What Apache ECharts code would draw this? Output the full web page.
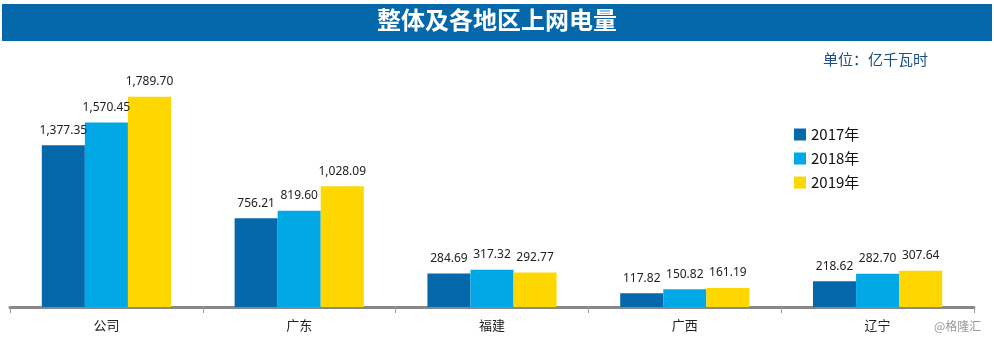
<!DOCTYPE html>
<html><head><meta charset="utf-8">
<script src="https://cdn.jsdelivr.net/npm/echarts@6/dist/echarts.min.js"></script>
<style>html,body{margin:0;padding:0;background:#fff;}#c{width:994px;height:342px;}</style>
</head><body><div id="c"></div>
<script>
var categories = ['公司', '广东', '福建', '广西', '辽宁'];
var seriesNames = ['2017年', '2018年', '2019年'];
var v2017 = [1377.35, 756.21, 284.69, 117.82, 218.62];
var v2018 = [1570.45, 819.60, 317.32, 150.82, 282.70];
var v2019 = [1789.70, 1028.09, 292.77, 161.19, 307.64];
var colors = ['#0468AA', '#00A8E6', '#FFD700'];
var fmt = function (p) {
  return p.value.toLocaleString('en-US', {minimumFractionDigits: 2, maximumFractionDigits: 2});
};
var chart = echarts.init(document.getElementById('c'));
var data = [v2017, v2018, v2019];
chart.setOption({
  animation: false,
  graphic: [
    {type: 'rect', left: 2, top: 4, shape: {width: 990, height: 37}, style: {fill: '#0468AA'}},
    {type: 'text', left: 'center', top: 8, style: {text: '整体及各地区上网电量', fill: '#fff', font: 'bold 24px "Noto Sans CJK SC", sans-serif'}},
    {type: 'text', left: 823, top: 52, style: {text: '单位：亿千瓦时', fill: '#1A4F85', font: '15px "Noto Sans CJK SC", sans-serif'}},
    {type: 'text', left: 934, top: 320, style: {text: '@格隆汇', fill: '#999', font: '12px "Noto Sans CJK SC", sans-serif'}}
  ],
  legend: {
    orient: 'vertical', left: 789, top: 122, itemWidth: 12, itemHeight: 12, itemGap: 9,
    icon: 'rect',
    textStyle: {fontSize: 15, color: '#111', fontFamily: '"Noto Sans CJK SC", sans-serif'},
    data: seriesNames
  },
  grid: {left: 10, right: 20, top: 72, bottom: 35},
  xAxis: {
    type: 'category', data: categories,
    axisLine: {lineStyle: {color: '#888', width: 3}},
    axisTick: {show: true, length: 6, lineStyle: {color: '#999', width: 1}},
    axisLabel: {color: '#222', fontSize: 13, margin: 12, fontFamily: '"Noto Sans CJK SC", sans-serif'}
  },
  yAxis: {type: 'value', min: 0, max: 2000, show: false, splitLine: {show: false}},
  series: seriesNames.map(function (n, i) {
    return {
      name: n, type: 'bar', data: data[i], barGap: '0%', barCategoryGap: '33%',
      itemStyle: {color: colors[i]},
      label: {show: true, position: 'top', distance: 9, formatter: fmt, color: '#222', fontSize: 12,
        fontFamily: '"Noto Sans", sans-serif'}
    };
  })
});
</script></body></html>
